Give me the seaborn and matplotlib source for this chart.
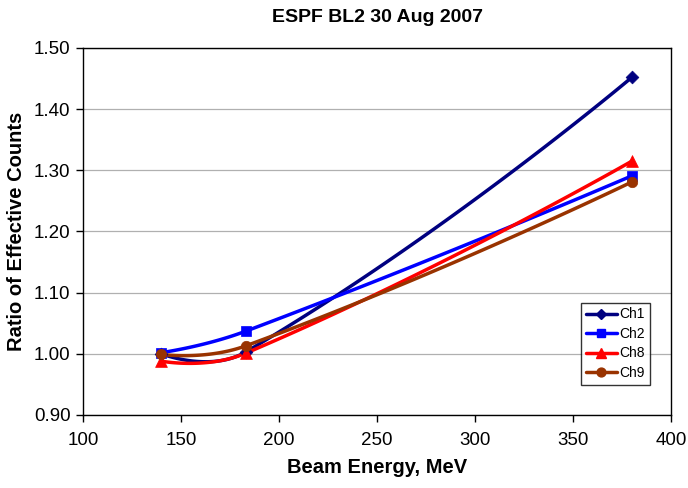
import numpy as np
import pandas as pd
import matplotlib
matplotlib.use("Agg")
import matplotlib.pyplot as plt
from matplotlib.lines import Line2D
import seaborn as sns

energy = [140, 183, 380]
ch1 = [1.000, 1.003, 1.452]
ch2 = [1.002, 1.037, 1.291]
ch8 = [0.988, 1.001, 1.315]
ch9 = [0.999, 1.013, 1.281]
series_names = ["Ch1", "Ch2", "Ch8", "Ch9"]
series_vals = [ch1, ch2, ch8, ch9]
colors = ["#000080", "#0000FF", "#FF0000", "#993300"]
markers = ["D", "s", "^", "o"]
marker_sizes = [6.5, 6.5, 8.5, 7.5]

XLIM = (100, 400)
YLIM = (0.90, 1.50)

sns.set_theme(style="white")
plt.rcParams["font.family"] = ["Liberation Sans", "DejaVu Sans"]
plt.rcParams["text.color"] = "black"
plt.rcParams["axes.labelcolor"] = "black"

fig = plt.figure(figsize=(6.88, 4.88), dpi=100)
ax = fig.add_axes([83/688, 1-415/488, (671-83)/688, (415-48)/488])
W = 588.0
H = 367.0


def smooth(xs, ys, n=60, tension=0.5):
    # Excel-like Bezier smoothing in pixel space
    px = (np.asarray(xs, float) - XLIM[0]) / (XLIM[1]-XLIM[0]) * W
    py = (np.asarray(ys, float) - YLIM[0]) / (YLIM[1]-YLIM[0]) * H
    P = np.column_stack([px, py])
    m = len(P)
    out = []
    for i in range(m-1):
        p0, p1 = P[i], P[i+1]
        d01 = np.linalg.norm(p1-p0)
        if i > 0:
            prev = P[i-1]
            dprev = np.linalg.norm(p0-prev)
            c1 = p0 + (p1-prev) * tension * d01/(dprev+d01)
        else:
            c1 = p0
        if i+2 < m:
            nxt = P[i+2]
            dnext = np.linalg.norm(nxt-p1)
            c2 = p1 - (nxt-p0) * tension * d01/(d01+dnext)
        else:
            c2 = p1
        t = np.linspace(0, 1, n)[:, None]
        seg = ((1-t)**3)*p0 + 3*((1-t)**2)*t*c1 + 3*(1-t)*t**2*c2 + t**3*p1
        out.append(seg if i == 0 else seg[1:])
    arr = np.vstack(out)
    sx = arr[:, 0]/W*(XLIM[1]-XLIM[0]) + XLIM[0]
    sy = arr[:, 1]/H*(YLIM[1]-YLIM[0]) + YLIM[0]
    return sx, sy


handles = []
for name, vals, c, mk, ms in zip(series_names, series_vals, colors, markers, marker_sizes):
    sx, sy = smooth(energy, vals)
    sns.lineplot(x=sx, y=sy, sort=False, estimator=None, color=c, lw=2.5, ax=ax)
    sns.scatterplot(x=energy, y=vals, marker=mk, s=ms**2, color=c, edgecolor=c,
                    linewidth=0.5, ax=ax, zorder=5)
    handles.append(Line2D([0], [0], color=c, lw=2.5, marker=mk, markersize=ms*0.85,
                          markeredgecolor=c, label=name))

ax.set_xlim(*XLIM)
ax.set_ylim(*YLIM)
ax.set_xticks(np.arange(100, 401, 50))
ax.set_yticks(np.arange(0.9, 1.501, 0.1))
ax.set_yticklabels([f"{v:.2f}" for v in np.arange(0.9, 1.501, 0.1)])
ax.yaxis.grid(True, color="#b0b0b0", lw=0.9)
ax.xaxis.grid(False)
ax.set_axisbelow(True)
for s in ax.spines.values():
    s.set_color("black")
    s.set_linewidth(1.0)
ax.tick_params(axis="both", direction="out", length=5, width=1, color="black",
               labelsize=13.5, labelcolor="black", bottom=True, left=True, pad=4)
ax.tick_params(axis="x", pad=7)

ax.set_title("ESPF BL2 30 Aug 2007", fontsize=14, fontweight="bold", pad=19,
             color="black")
ax.set_xlabel("Beam Energy, MeV", fontsize=14.5, fontweight="bold", labelpad=7)
ax.set_ylabel("Ratio of Effective Counts", fontsize=14.5, fontweight="bold", labelpad=6)

leg = ax.legend(handles=handles, loc="lower right", bbox_to_anchor=(0.964, 0.082),
                fontsize=10, frameon=True, fancybox=False, handlelength=2.2,
                handletextpad=0.2, borderpad=0.35, labelspacing=0.4,
                borderaxespad=0)
leg.get_frame().set_edgecolor("black")
leg.get_frame().set_linewidth(1.0)

fig.savefig("out.png", dpi=100)
